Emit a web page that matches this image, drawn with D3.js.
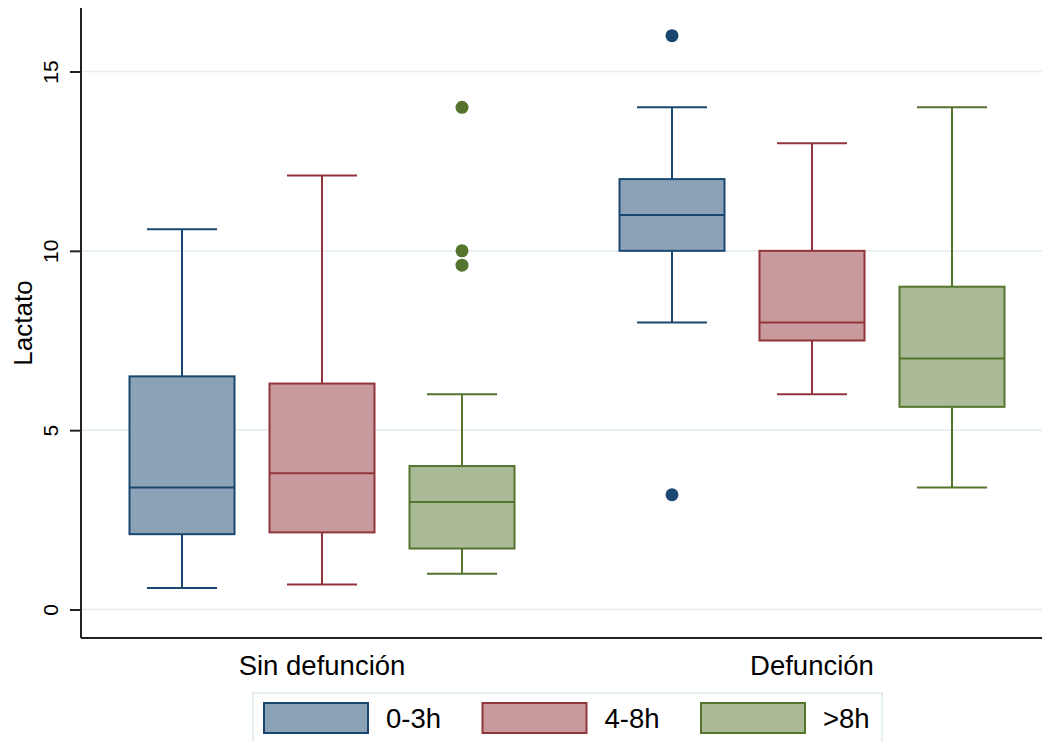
<!DOCTYPE html>
<html>
    <head>
        <meta charset="utf-8">
        <script src="https://d3js.org/d3.v7.min.js"></script>
        <style>
            body { margin: 0; background: #fff; }
            svg text { font-family: "Liberation Sans", Arial, sans-serif; fill: #000; }
        </style>
    </head>
    <body>
        <svg width="1042" height="742" id="chart"></svg>
        <script>
            // data
            const groups = ["Sin defunción", "Defunción"];
            const series = ["0-3h", "4-8h", ">8h"];
            const whiskerLow  = [[0.6, 0.7, 1.0], [8.0, 6.0, 3.4]];
            const q1          = [[2.1, 2.15, 1.7], [10.0, 7.5, 5.65]];
            const median      = [[3.4, 3.8, 3.0], [11.0, 8.0, 7.0]];
            const q3          = [[6.5, 6.3, 4.0], [12.0, 10.0, 9.0]];
            const whiskerHigh = [[10.6, 12.1, 6.0], [14.0, 13.0, 14.0]];
            const outliers    = [[[], [], [14, 10, 9.6]], [[16, 3.2], [], []]];
            const yTicks = [0, 5, 10, 15];

            const lineColors = ["#1a476f", "#90353b", "#55752f"];
            const fillColors = ["#8ca3b7", "#c89a9d", "#aaba97"];

            let svg = d3.select("#chart");
            const W = 1042, H = 742;
            const plotLeft = 81, plotTop = 8, plotBottom = 638;

            let y = d3.scaleLinear().domain([0, 15]).range([609.5, 71.5]);
            let xGroup = d3.scaleBand().domain(groups).range([77, 1057]);
            let xSeries = d3.scaleBand().domain(series).range([0, xGroup.bandwidth()])
                .paddingInner(0.25).paddingOuter(0.375);
            const capW = 70;

            // grid
            svg.append("g").selectAll("line.grid").data(yTicks)
                .join("line")
                .attr("class", "grid")
                .attr("x1", plotLeft).attr("x2", W)
                .attr("y1", d => y(d)).attr("y2", d => y(d))
                .attr("stroke", "#e6eff0").attr("stroke-width", 1.6);

            // build flat list of boxes
            let boxes = [];
            groups.forEach((g, gi) => {
                series.forEach((s, si) => {
                    boxes.push({
                        group: g, series: s, si: si,
                        lo: whiskerLow[gi][si], q1: q1[gi][si], med: median[gi][si],
                        q3: q3[gi][si], hi: whiskerHigh[gi][si], out: outliers[gi][si]
                    });
                });
            });

            let bx = d => xGroup(d.group) + xSeries(d.series);
            let cx = d => bx(d) + xSeries.bandwidth() / 2;

            let boxG = svg.append("g").selectAll("g.box").data(boxes)
                .join("g").attr("class", "box");

            // whiskers
            boxG.append("line")
                .attr("x1", cx).attr("x2", cx)
                .attr("y1", d => y(d.hi)).attr("y2", d => y(d.q3))
                .attr("stroke", d => lineColors[d.si]).attr("stroke-width", 2);
            boxG.append("line")
                .attr("x1", cx).attr("x2", cx)
                .attr("y1", d => y(d.q1)).attr("y2", d => y(d.lo))
                .attr("stroke", d => lineColors[d.si]).attr("stroke-width", 2);
            boxG.append("line")
                .attr("x1", d => cx(d) - capW / 2).attr("x2", d => cx(d) + capW / 2)
                .attr("y1", d => y(d.hi)).attr("y2", d => y(d.hi))
                .attr("stroke", d => lineColors[d.si]).attr("stroke-width", 2);
            boxG.append("line")
                .attr("x1", d => cx(d) - capW / 2).attr("x2", d => cx(d) + capW / 2)
                .attr("y1", d => y(d.lo)).attr("y2", d => y(d.lo))
                .attr("stroke", d => lineColors[d.si]).attr("stroke-width", 2);

            // box
            boxG.append("rect")
                .attr("x", bx)
                .attr("width", xSeries.bandwidth())
                .attr("y", d => y(d.q3))
                .attr("height", d => y(d.q1) - y(d.q3))
                .attr("fill", d => fillColors[d.si])
                .attr("stroke", d => lineColors[d.si]).attr("stroke-width", 2);
            boxG.append("line")
                .attr("x1", bx).attr("x2", d => bx(d) + xSeries.bandwidth())
                .attr("y1", d => y(d.med)).attr("y2", d => y(d.med))
                .attr("stroke", d => lineColors[d.si]).attr("stroke-width", 2);

            // outside values
            boxG.selectAll("circle").data(d => d.out.map(v => ({v: v, d: d})))
                .join("circle")
                .attr("cx", o => cx(o.d))
                .attr("cy", o => y(o.v))
                .attr("r", 6.5)
                .attr("fill", o => lineColors[o.d.si]);

            // axes
            let yAxis = svg.append("g")
                .attr("transform", `translate(${plotLeft},0)`)
                .call(d3.axisLeft(y).tickValues(yTicks).tickSize(11).tickFormat(d3.format("d")));
            yAxis.select(".domain").remove();
            yAxis.selectAll(".tick line").attr("stroke", "#222").attr("stroke-width", 2);
            yAxis.selectAll(".tick text")
                .attr("x", null).attr("dy", null)
                .attr("text-anchor", "middle")
                .attr("transform", "translate(-23,0) rotate(-90)")
                .style("font-size", "21px")
                .style("font-family", "'Liberation Sans', Arial, sans-serif")
                .attr("fill", "#000");

            svg.append("line").attr("x1", plotLeft).attr("x2", plotLeft).attr("y1", plotTop).attr("y2", plotBottom)
                .attr("stroke", "#222").attr("stroke-width", 2);
            svg.append("line").attr("x1", plotLeft).attr("x2", W).attr("y1", plotBottom).attr("y2", plotBottom)
                .attr("stroke", "#222").attr("stroke-width", 2);

            svg.append("text")
                .attr("transform", `translate(32,${(plotTop + plotBottom) / 2}) rotate(-90)`)
                .attr("text-anchor", "middle")
                .style("font-size", "26px")
                .text("Lactato");

            svg.append("g").selectAll("text.cat").data(groups)
                .join("text")
                .attr("class", "cat")
                .attr("x", d => xGroup(d) + xGroup.bandwidth() / 2)
                .attr("y", 675)
                .attr("text-anchor", "middle")
                .style("font-size", "27.5px")
                .text(d => d);

            // legend
            let legend = svg.append("g");
            legend.append("rect")
                .attr("x", 253).attr("y", 693).attr("width", 629).attr("height", 60)
                .attr("fill", "#fff").attr("stroke", "#e6eff0").attr("stroke-width", 2);
            let items = legend.selectAll("g.item").data(series)
                .join("g").attr("class", "item")
                .attr("transform", (d, i) => `translate(${264 + i * 218.5},703)`);
            items.append("rect")
                .attr("width", 104).attr("height", 30)
                .attr("fill", (d, i) => fillColors[i])
                .attr("stroke", (d, i) => lineColors[i]).attr("stroke-width", 2);
            items.append("text")
                .attr("x", 122).attr("y", 25)
                .style("font-size", "27.5px")
                .text(d => d);
        </script>
    </body>
</html>
